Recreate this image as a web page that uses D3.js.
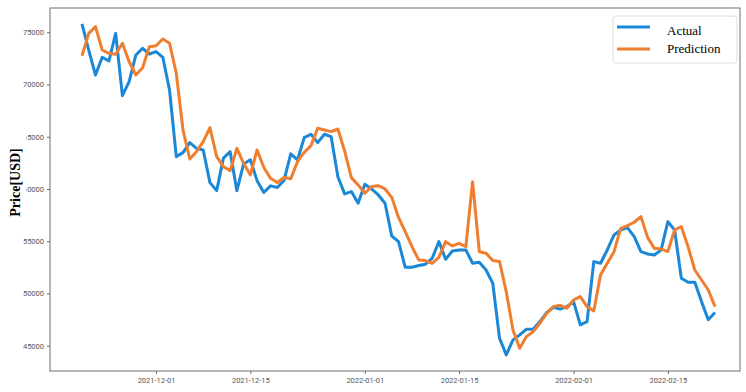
<!DOCTYPE html>
<html>
<head>
<meta charset="utf-8">
<script src="https://cdn.jsdelivr.net/npm/d3@7"></script>
<style>
  html, body { margin: 0; padding: 0; background: #fff; }
  svg { display: block; }
</style>
</head>
<body>
<svg id="chart" width="746" height="392"></svg>
<script>
const dates = [
  "2021-11-20","2021-11-21","2021-11-22","2021-11-23","2021-11-24","2021-11-25","2021-11-26","2021-11-27","2021-11-28","2021-11-29","2021-11-30",
  "2021-12-01","2021-12-02","2021-12-03","2021-12-04","2021-12-05","2021-12-06","2021-12-07","2021-12-08","2021-12-09","2021-12-10",
  "2021-12-11","2021-12-12","2021-12-13","2021-12-14","2021-12-15","2021-12-16","2021-12-17","2021-12-18","2021-12-19","2021-12-20",
  "2021-12-21","2021-12-22","2021-12-23","2021-12-24","2021-12-25","2021-12-26","2021-12-27","2021-12-28","2021-12-29","2021-12-30","2021-12-31",
  "2022-01-01","2022-01-02","2022-01-03","2022-01-04","2022-01-05","2022-01-06","2022-01-07","2022-01-08","2022-01-09","2022-01-10",
  "2022-01-11","2022-01-12","2022-01-13","2022-01-14","2022-01-15","2022-01-16","2022-01-17","2022-01-18","2022-01-19","2022-01-20",
  "2022-01-21","2022-01-22","2022-01-23","2022-01-24","2022-01-25","2022-01-26","2022-01-27","2022-01-28","2022-01-29","2022-01-30","2022-01-31",
  "2022-02-01","2022-02-02","2022-02-03","2022-02-04","2022-02-05","2022-02-06","2022-02-07","2022-02-08","2022-02-09","2022-02-10",
  "2022-02-11","2022-02-12","2022-02-13","2022-02-14","2022-02-15","2022-02-16","2022-02-17","2022-02-18","2022-02-19","2022-02-20",
  "2022-02-21","2022-02-22"
];

const actual = [
  75795, 73300, 70914, 72607, 72253, 74900, 68935, 70273, 72828, 73468,
  72924, 73150, 72607, 69478, 63096, 63479, 64436, 63894, 63737, 60608,
  59843, 62960, 63574, 59843, 62400, 62800, 60800, 59670, 60300, 60150,
  60820, 63370, 62780, 64915, 65240, 64435, 65240, 65010, 61180, 59530,
  59750, 58635, 60450, 60005, 59430, 58635, 55500, 54960, 52510, 52510,
  52670, 52800, 53370, 54960, 53270, 54070, 54165, 54165, 52890, 52990,
  52250, 50980, 45720, 44120, 45560, 46040, 46580, 46580, 47310, 48170,
  48680, 48500, 48740, 49220, 46990, 47310, 53050, 52890, 54165, 55600,
  56080, 56300, 55440, 54000, 53780, 53690, 54165, 56880, 56080, 51460,
  51075, 51075, 49220, 47490, 48170
];

const prediction = [
  72760, 74900, 75540, 73306, 72990, 72895, 73950, 72186, 70914, 71613,
  73620, 73717, 74360, 73950, 71076, 65650, 62875, 63574, 64530, 65870,
  63096, 62140, 61740, 63894, 62455, 61340, 63737, 62060, 61020, 60620,
  61100, 60980, 62620, 63510, 64150, 65810, 65650, 65490, 65745, 63640,
  61090, 60390, 59590, 60230, 60320, 60005, 59200, 57280, 55920, 54480,
  53210, 53150, 52890, 53465, 54960, 54550, 54800, 54480, 60700, 54000,
  53850, 53150, 53050, 50180, 46510, 44750, 45870, 46350, 47150, 48100,
  48740, 48870, 48590, 49380, 49700, 48740, 48330, 51780, 52890, 54000,
  56240, 56490, 56815, 57355, 55345, 54320, 54260, 54000, 56080, 56400,
  54480, 52250, 51290, 50330, 48740
];

const yTicks = [45000, 50000, 55000, 60000, 65000, 70000, 75000];
const xTicks = ["2021-12-01","2021-12-15","2022-01-01","2022-01-15","2022-02-01","2022-02-15"];
const seriesNames = ["Actual", "Prediction"];
const seriesColors = ["#1b87d7", "#f07e2f"];
const yLabel = "Price[USD]";

const parse = d3.timeParse("%Y-%m-%d");
const dts = dates.map(parse);

const frame = { left: 50, right: 740, top: 8, bottom: 371 };

const svg = d3.select("#chart");

const x = d3.scaleTime()
  .domain([dts[0], dts[dts.length - 1]])
  .range([82, 715]);
const y = d3.scaleLinear()
  .domain([45000, 75000])
  .range([345.7, 32.3]);

// frame
svg.append("rect")
  .attr("x", frame.left).attr("y", frame.top)
  .attr("width", frame.right - frame.left)
  .attr("height", frame.bottom - frame.top)
  .attr("fill", "none")
  .attr("stroke", "#6e6e6e")
  .attr("stroke-width", 1);

// y axis
const yAxis = svg.append("g")
  .attr("transform", `translate(${frame.left},0)`)
  .call(d3.axisLeft(y).tickValues(yTicks).tickFormat(d3.format("d")).tickSize(3).tickPadding(3));
yAxis.select(".domain").remove();
yAxis.selectAll("line").attr("stroke", "#666");
yAxis.selectAll("text")
  .attr("fill", "#555")
  .style("font-family", "Roboto, 'DejaVu Sans Condensed', sans-serif")
  .style("font-size", "7.5px");

// x axis
const xAxis = svg.append("g")
  .attr("transform", `translate(0,${frame.bottom})`)
  .call(d3.axisBottom(x).tickValues(xTicks.map(parse)).tickFormat(d3.timeFormat("%Y-%m-%d")).tickSize(3).tickPadding(4));
xAxis.select(".domain").remove();
xAxis.selectAll("line").attr("stroke", "#666");
xAxis.selectAll("text")
  .attr("fill", "#555")
  .style("font-family", "Roboto, 'DejaVu Sans Condensed', sans-serif")
  .style("font-size", "7.5px");

// lines
const line = d3.line()
  .x((d, i) => x(dts[i]))
  .y(d => y(d));

[actual, prediction].forEach((s, k) => {
  svg.append("path")
    .datum(s)
    .attr("fill", "none")
    .attr("stroke", seriesColors[k])
    .attr("stroke-width", 3)
    .attr("stroke-linejoin", "round")
    .attr("d", line);
});

// y label with white background (covers part of tick labels as in reference)
svg.append("rect")
  .attr("x", 0).attr("y", 115).attr("width", 26.5).attr("height", 110)
  .attr("fill", "#fff");
svg.append("text")
  .attr("transform", "translate(20,182.5) rotate(-90)")
  .attr("text-anchor", "middle")
  .style("font-family", "'Liberation Serif', 'Times New Roman', serif")
  .style("font-weight", "bold")
  .style("font-size", "14px")
  .attr("fill", "#000")
  .text(yLabel);

// legend
const lg = svg.append("g");
lg.append("rect")
  .attr("x", 613).attr("y", 16).attr("width", 124).attr("height", 47)
  .attr("rx", 3)
  .attr("fill", "#fff")
  .attr("stroke", "#dcdcdc");
const lineYs = [27, 49];
const textYs = [35, 53];
seriesNames.forEach((name, k) => {
  lg.append("line")
    .attr("x1", 617).attr("x2", 650)
    .attr("y1", lineYs[k]).attr("y2", lineYs[k])
    .attr("stroke", seriesColors[k])
    .attr("stroke-width", 3);
  lg.append("text")
    .attr("x", 667).attr("y", textYs[k])
    .style("font-family", "'Liberation Serif', 'Times New Roman', serif")
    .style("font-size", "13px")
    .attr("fill", "#000")
    .text(name);
});
</script>
</body>
</html>
